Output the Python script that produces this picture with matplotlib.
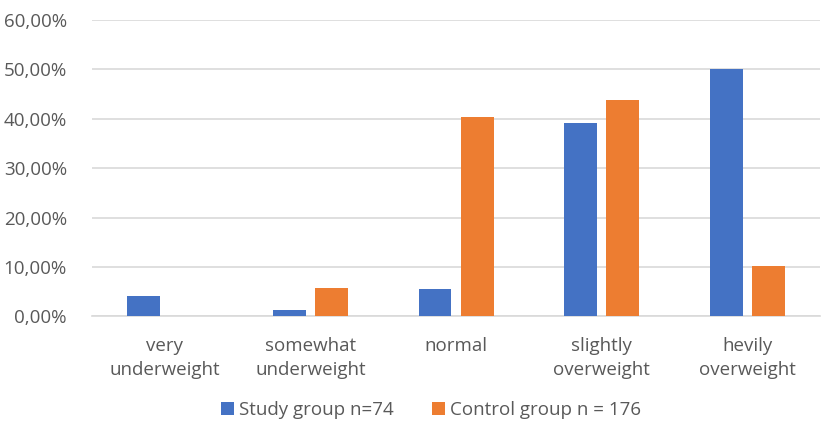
"""Weight category distribution, study vs control group."""
import matplotlib.pyplot as plt
import numpy as np
from matplotlib.ticker import FuncFormatter

categories = ["very\nunderweight", "somewhat\nunderweight", "normal",
              "slightly\noverweight", "hevily\noverweight"]
study = [4.05, 1.35, 5.41, 39.19, 50.00]
control = [0.0, 5.68, 40.34, 43.75, 10.23]
series_names = ["Study group n=74", "Control group n = 176"]
y_ticks = [0, 10, 20, 30, 40, 50, 60]

plt.rcParams["font.family"] = ["Open Sans", "DejaVu Sans"]
text_color = "#595959"
font_size = 13.5

fig = plt.figure(figsize=(8.21, 4.29), dpi=100)
ax = fig.add_axes([0.112, 0.263, 0.887, 0.690])

x = np.arange(len(categories))
width = 0.225
ax.bar(x - 0.145, study, width, color="#4472C4", label=series_names[0], zorder=3)
ax.bar(x + 0.145, control, width, color="#ED7D31", label=series_names[1], zorder=3)

ax.set_xlim(-0.5, len(categories) - 0.5)
ax.set_ylim(0, 60)
ax.set_yticks(y_ticks)
ax.yaxis.set_major_formatter(FuncFormatter(lambda v, _: f"{v:.2f}%".replace(".", ",")))
ax.set_xticks(x)
ax.set_xticklabels(categories, linespacing=1.4)
ax.grid(axis="y", color="#D9D9D9", linewidth=1.2, zorder=0)
for side in ["top", "right", "left"]:
    ax.spines[side].set_visible(False)
ax.spines["bottom"].set_color("#D9D9D9")
ax.spines["bottom"].set_linewidth(1.2)
ax.tick_params(axis="both", length=0, labelsize=font_size, colors=text_color)
ax.tick_params(axis="y", pad=18)
ax.tick_params(axis="x", pad=15)

fig.legend(loc="center", bbox_to_anchor=(0.525, 0.044),
           ncol=2, frameon=False, fontsize=font_size, labelcolor=text_color,
           handlelength=0.7, handleheight=0.7, handletextpad=0.3, columnspacing=2.0)

fig.savefig("out.png", dpi=100)
